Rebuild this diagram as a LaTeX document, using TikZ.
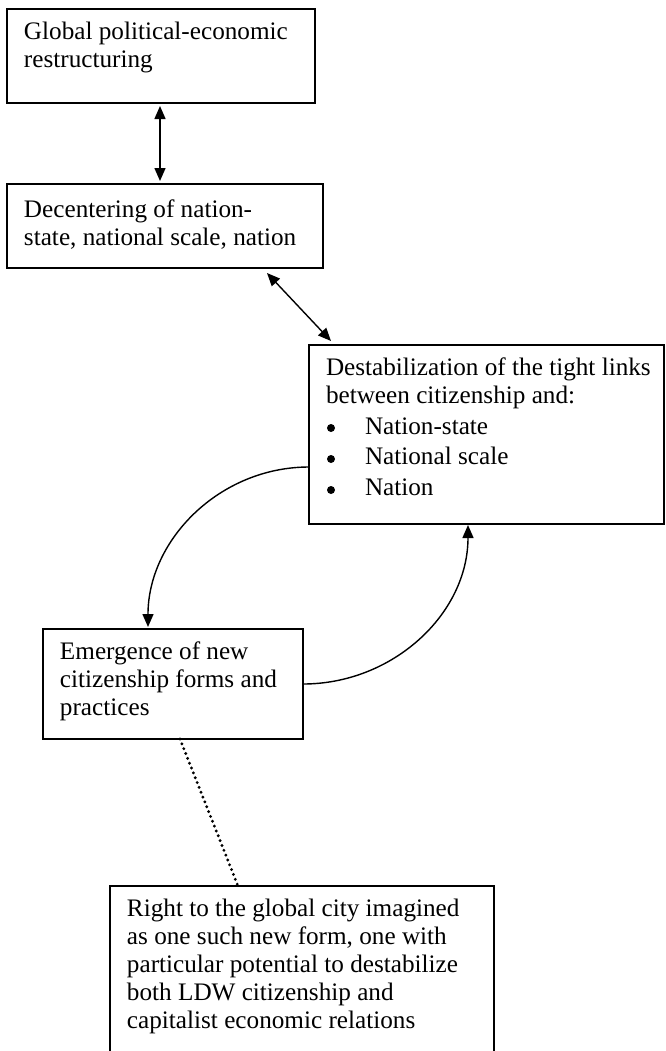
\documentclass[tikz,border=0pt]{standalone}
\usepackage{fontspec}
\setmainfont{Liberation Serif}
\usetikzlibrary{arrows.meta,calc}
\newcommand\bxc[4]{\parbox[c][#2][t]{#1}{\raggedright\setlength\leftskip{8.5pt}\rule{0pt}{#3}#4}}
\newcommand\bul{\hspace*{19.5pt}}
\begin{document}
\begin{tikzpicture}[x=0.5pt,y=-0.5pt,
  boxnode/.style={draw, line width=0.9pt, inner sep=0pt, outer sep=0pt, anchor=north west,
    font=\fontsize{12.6}{14.1}\selectfont},
  link/.style={line width=0.7pt},
  bulletdot/.style={fill=black},
  tipend/.style={-{Triangle[length=6.5pt,width=5.5pt]}},
  tipboth/.style={{Triangle[length=6.5pt,width=5.5pt]}-{Triangle[length=6.5pt,width=5.5pt]}},
  dots/.style={line width=1.6pt, line cap=round, dash pattern=on 0pt off 2.6pt}]
\useasboundingbox (0,0) rectangle (665,1051);
\clip (0,0) rectangle (665,1051);

\node[boxnode] (b1) at (7,9) {\bxc{154pt}{47pt}{15pt}{Global political-economic\\restructuring}};
\node[boxnode] (b2) at (7,184) {\bxc{158pt}{42pt}{16.5pt}{Decentering of nation-\\state, national scale, nation}};
\node[boxnode] (b3) at (309,345) {\bxc{177.5pt}{89.5pt}{15pt}{Destabilization of the tight links\\between citizenship and:\\[1.3pt]\bul Nation-state\\[1.3pt]\bul National scale\\[1.3pt]\bul Nation}};
\node[boxnode] (b4) at (43,629) {\bxc{130pt}{55pt}{15pt}{Emergence of new\\citizenship forms and\\practices}};
\node[boxnode] (b5) at (110,886) {\bxc{192pt}{87pt}{15pt}{Right to the global city imagined\\as one such new form, one with\\particular potential to destabilize\\both LDW citizenship and\\capitalist economic relations}};

% bullets of the list in b3
\fill[bulletdot] ($(b3.north west)+(22,83)$) circle (2pt);
\fill[bulletdot] ($(b3.north west)+(22,114)$) circle (2pt);
\fill[bulletdot] ($(b3.north west)+(22,145)$) circle (2pt);

\coordinate (a2s) at ($(b2.south west)+(260,5)$);
\coordinate (a2e) at ($(b3.north west)+(22,-4)$);
\coordinate (c1s) at ($(b3.north west)+(0,122)$);
\coordinate (c1e) at ($(b4.north west)+(105,0)$);
\coordinate (c2e) at ($(b3.south west)+(159,0)$);
\coordinate (d1) at ($(b4.south west)+(137,0)$);
\coordinate (d2) at ($(b5.north west)+(128,0)$);

\draw[link,tipboth,shorten <=1.5pt,shorten >=1.5pt] ($(b1.south west)+(153,0)$) -- ($(b2.north west)+(153,0)$);
\draw[link,tipboth] (a2s) -- (a2e);
\draw[link,tipend,shorten >=1pt] (c1s) to[out=180,in=90] (c1e);
\draw[link,tipend,shorten >=0.5pt] (b4.east) to[out=0,in=270] (c2e);
\draw[dots] (d1) -- (d2);
\end{tikzpicture}
\end{document}
